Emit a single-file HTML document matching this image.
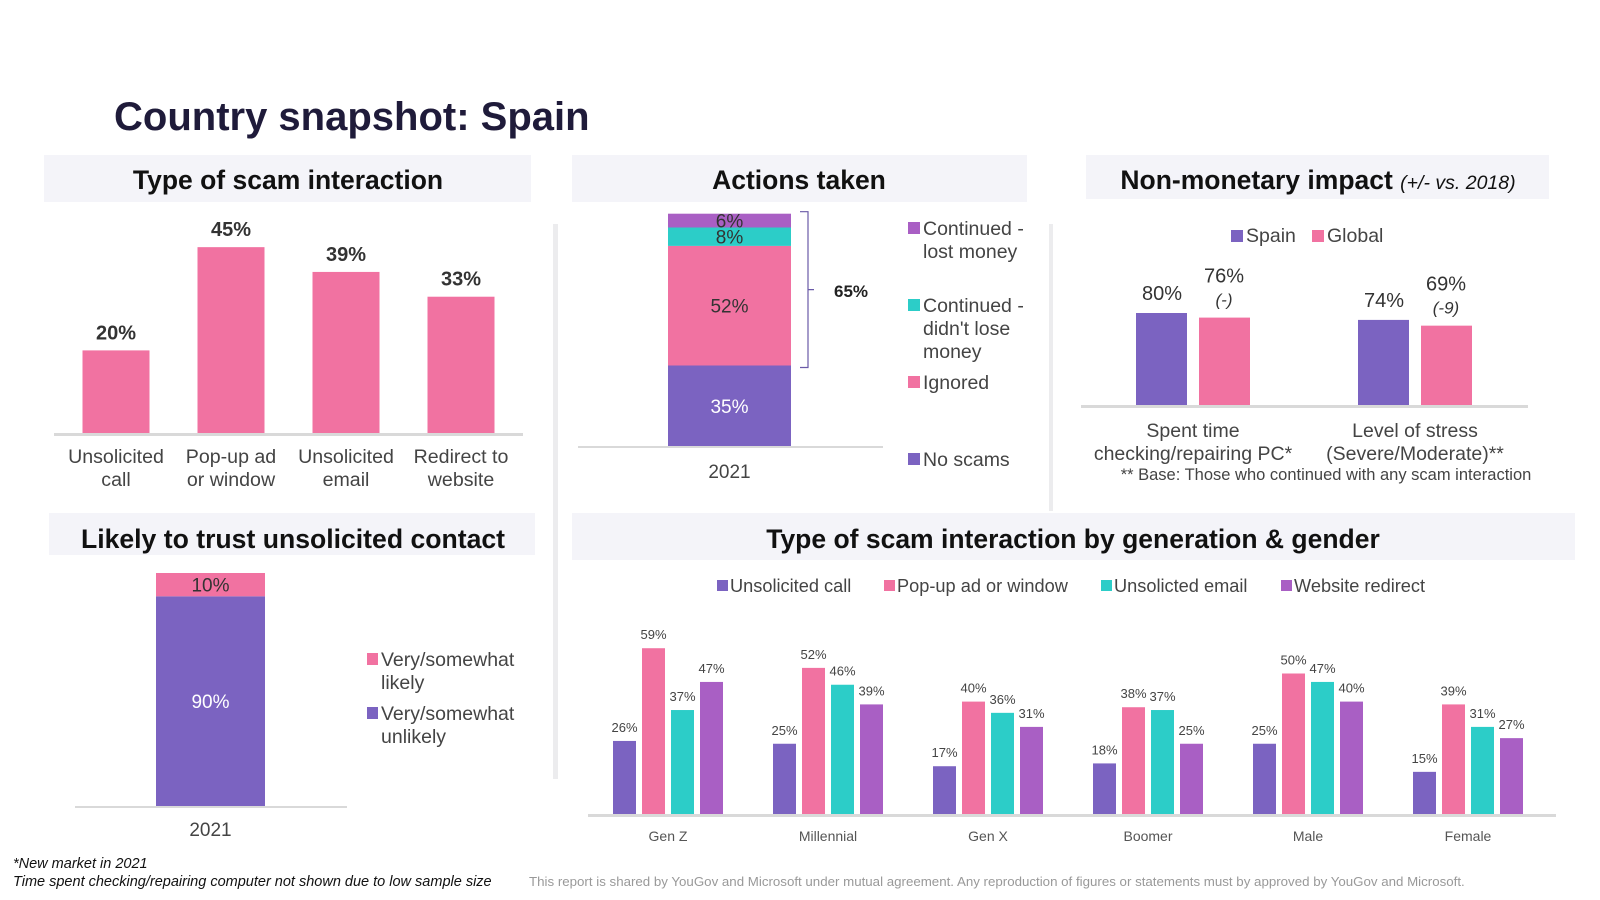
<!DOCTYPE html>
<html><head><meta charset="utf-8">
<style>
html,body{margin:0;padding:0;background:#fff;}
svg{display:block;font-family:"Liberation Sans",Arial,sans-serif;}
</style></head>
<body>
<svg id="s" width="1600" height="900" viewBox="0 0 1600 900">
<text x="114" y="130" font-size="40" font-weight="bold" fill="#1f1b3a">Country snapshot: Spain</text>
<rect x="44" y="155" width="487" height="47" fill="#f4f4f9"/>
<text x="288" y="189" font-size="26.5" font-weight="bold" text-anchor="middle" fill="#111">Type of scam interaction</text>
<rect x="572" y="155" width="455" height="47" fill="#f4f4f9"/>
<text x="799" y="189" font-size="26.5" font-weight="bold" text-anchor="middle" fill="#111">Actions taken</text>
<rect x="1086" y="155" width="463" height="44" fill="#f4f4f9"/>
<text x="1318" y="189" font-size="26.5" font-weight="bold" text-anchor="middle" fill="#111">Non-monetary impact <tspan font-size="19.5" font-style="italic" font-weight="normal">(+/- vs. 2018)</tspan></text>
<rect x="49" y="513" width="486" height="42" fill="#f4f4f9"/>
<text x="293" y="548" font-size="26.6" font-weight="bold" text-anchor="middle" fill="#111">Likely to trust unsolicited contact</text>
<rect x="572" y="513" width="1003" height="47" fill="#f4f4f9"/>
<text x="1073" y="548" font-size="26.5" font-weight="bold" text-anchor="middle" fill="#111">Type of scam interaction by generation &amp; gender</text>
<rect x="553" y="224" width="5" height="555" fill="#ececee"/>
<rect x="1049" y="224" width="4" height="287" fill="#ececee"/>
<g id="c1"></g><g id="c2"></g><g id="c3"></g><g id="c4"></g><g id="c5"></g>
<text x="13" y="868" font-size="14.5" font-style="italic" fill="#111">*New market in 2021</text>
<text x="13" y="886" font-size="14.5" font-style="italic" fill="#111">Time spent checking/repairing computer not shown due to low sample size</text>
<text x="529" y="886" font-size="13.3" fill="#999">This report is shared by YouGov and Microsoft under mutual agreement. Any reproduction of figures or statements must by approved by YouGov and Microsoft.</text>
</svg>
<script>
const scamCats=[["Unsolicited","call"],["Pop-up ad","or window"],["Unsolicited","email"],["Redirect to","website"]];
const scamVals=[20,45,39,33];
const actionsLabels=["No scams","Ignored","Continued - didn't lose money","Continued - lost money"];
const actionsVals=[35,52,8,6];
const impactCats=[["Spent time","checking/repairing PC*"],["Level of stress","(Severe/Moderate)**"]];
const impactSpain=[80,74];
const impactGlobal=[76,69];
const impactChange=["(-)","(-9)"];
const trustVals=[90,10];
const genCats=["Gen Z","Millennial","Gen X","Boomer","Male","Female"];
const genCall=[26,25,17,18,25,15];
const genPopup=[59,52,40,38,50,39];
const genEmail=[37,46,36,37,47,31];
const genRedirect=[47,39,31,25,40,27];

const NS="http://www.w3.org/2000/svg";
const PUR="#7b63c1",PINK="#f172a1",TEAL="#2ccdc8",VIO="#a95fc4";
function mk(p,tag,a,txt){const e=document.createElementNS(NS,tag);for(const k in a)e.setAttribute(k,a[k]);if(txt!=null)e.textContent=txt;p.appendChild(e);return e;}

// chart 1
(function(){const g=document.getElementById('c1');const base=433,k=4.13,x0=116,step=115,w=67;
const ax=mk(g,'rect',{x:54,y:base,width:469,height:3,fill:'#d9d9d9'});

scamVals.forEach((v,i)=>{const cx=x0+i*step,h=v*k;
const b=mk(g,'rect',{x:cx-w/2,y:base-h,width:w,height:h,fill:PINK});

const t=mk(g,'text',{x:cx,y:base-h-11,'font-size':20,'font-weight':'bold','text-anchor':'middle',fill:'#333'},v+'%');

scamCats[i].forEach((l,j)=>{const c=mk(g,'text',{x:cx,y:463+j*23,'font-size':19.6,'text-anchor':'middle',fill:'#444'},l);
});});})();

// chart 2 actions
(function(){const g=document.getElementById('c2');const base=446,k=2.3,x=668,w=123;
const ax=mk(g,'rect',{x:578,y:base,width:305,height:2,fill:'#d9d9d9'});

const cols=[PUR,PINK,TEAL,VIO];let y=base;
actionsVals.forEach((v,i)=>{const h=v*k;y-=h;
const b=mk(g,'rect',{x:x,y:y,width:w,height:h,fill:cols[i]});

const t=mk(g,'text',{x:x+w/2,y:y+h/2+7,'font-size':19,'text-anchor':'middle',fill:i==0?'#fff':'#333'},v+'%');
});
const yr=mk(g,'text',{x:x+w/2,y:478,'font-size':19,'text-anchor':'middle',fill:'#444'},'2021');

const topB=base-actionsVals[0]*k-actionsVals[1]*k-actionsVals[2]*k-actionsVals[3]*k, botB=base-actionsVals[0]*k;
const br=mk(g,'path',{d:`M800 ${topB-2} h8 V${(topB+botB)/2} h6 M808 ${(topB+botB)/2} V${botB+2} h-8`,fill:'none',stroke:'#6a5aa8','stroke-width':1.2});

const bt=mk(g,'text',{x:834,y:297,'font-size':17,'font-weight':'bold',fill:'#222'},(100-actionsVals[0])+'%');

const leg=[[VIO,["Continued -","lost money"],235],[TEAL,["Continued -","didn't lose","money"],312],[PINK,["Ignored"],389],[PUR,["No scams"],466]];
leg.forEach(([c,ls,y0])=>{const s=mk(g,'rect',{x:908,y:y0-13,width:12,height:12,fill:c});

ls.forEach((l,j)=>{const t=mk(g,'text',{x:923,y:y0+j*23,'font-size':19.5,fill:'#444'},l);
});});})();

// chart 3 impact
(function(){const g=document.getElementById('c3');const base=405,k=1.15,w=51,cx=[1193,1415];
const ax=mk(g,'rect',{x:1081,y:base,width:447,height:3,fill:'#d9d9d9'});

[[PUR,'Spain',1231],[PINK,'Global',1312]].forEach(([c,l,x])=>{const s=mk(g,'rect',{x:x,y:230,width:12,height:12,fill:c});

const t=mk(g,'text',{x:x+15,y:242,'font-size':19.5,fill:'#444'},l);
});
impactCats.forEach((cat,i)=>{const hs=impactSpain[i]*k,hg=impactGlobal[i]*k;
const b1=mk(g,'rect',{x:cx[i]-57,y:base-hs,width:w,height:hs,fill:PUR});

const b2=mk(g,'rect',{x:cx[i]+6,y:base-hg,width:w,height:hg,fill:PINK});

const t1=mk(g,'text',{x:cx[i]-31,y:base-hs-13,'font-size':20,'text-anchor':'middle',fill:'#333'},impactSpain[i]+'%');

const t2=mk(g,'text',{x:cx[i]+31,y:base-hg-35,'font-size':20,'text-anchor':'middle',fill:'#333'},impactGlobal[i]+'%');

const t3=mk(g,'text',{x:cx[i]+31,y:base-hg-12,'font-size':17,'font-style':'italic','text-anchor':'middle',fill:'#333'},impactChange[i]);

cat.forEach((l,j)=>{const t=mk(g,'text',{x:cx[i],y:437+j*23,'font-size':19.5,'text-anchor':'middle',fill:'#444'},l);
});});
const f=mk(g,'text',{x:1326,y:480,'font-size':16.5,'text-anchor':'middle',fill:'#444'},'** Base: Those who continued with any scam interaction');
})();

// chart 4 trust
(function(){const g=document.getElementById('c4');const base=806,k=2.33,x=156,w=109;
const ax=mk(g,'rect',{x:75,y:base,width:272,height:2,fill:'#d9d9d9'});

const cols=[PUR,PINK];let y=base;
trustVals.forEach((v,i)=>{const h=v*k;y-=h;
const b=mk(g,'rect',{x:x,y:y,width:w,height:h,fill:cols[i]});

const t=mk(g,'text',{x:x+w/2,y:y+h/2+7,'font-size':19,'text-anchor':'middle',fill:i==0?'#fff':'#333'},v+'%');
});
const yr=mk(g,'text',{x:x+w/2,y:836,'font-size':19,'text-anchor':'middle',fill:'#444'},'2021');

[[PINK,["Very/somewhat","likely"],666],[PUR,["Very/somewhat","unlikely"],720]].forEach(([c,ls,y0])=>{
const s=mk(g,'rect',{x:367,y:y0-13,width:11,height:12,fill:c});

ls.forEach((l,j)=>{const t=mk(g,'text',{x:381,y:y0+j*23,'font-size':19.5,fill:'#444'},l);
});});})();

// chart 5 generation
(function(){const g=document.getElementById('c5');const base=814,k=2.81,x0=613,gstep=160,bstep=29,w=23;
const ax=mk(g,'rect',{x:588,y:base,width:968,height:3,fill:'#d9d9d9'});

const series=[[genCall,PUR,'Unsolicited call',730],[genPopup,PINK,'Pop-up ad or window',897],[genEmail,TEAL,'Unsolicted email',1114],[genRedirect,VIO,'Website redirect',1294]];
series.forEach(([vals,c,name,lx],si)=>{
const s=mk(g,'rect',{x:lx-13,y:580,width:11,height:11,fill:c});

const lt=mk(g,'text',{x:lx,y:592,'font-size':18.2,fill:'#444'},name);

vals.forEach((v,i)=>{const x=x0+i*gstep+si*bstep,h=v*k;
const b=mk(g,'rect',{x:x,y:base-h,width:w,height:h,fill:c});

const t=mk(g,'text',{x:x+w/2,y:base-h-9,'font-size':13,'text-anchor':'middle',fill:'#444'},v+'%');
});});
genCats.forEach((c,i)=>{const t=mk(g,'text',{x:x0+i*gstep+(3*bstep+w)/2,y:841,'font-size':14,'text-anchor':'middle',fill:'#555'},c);
});})();
</script>
</body></html>
